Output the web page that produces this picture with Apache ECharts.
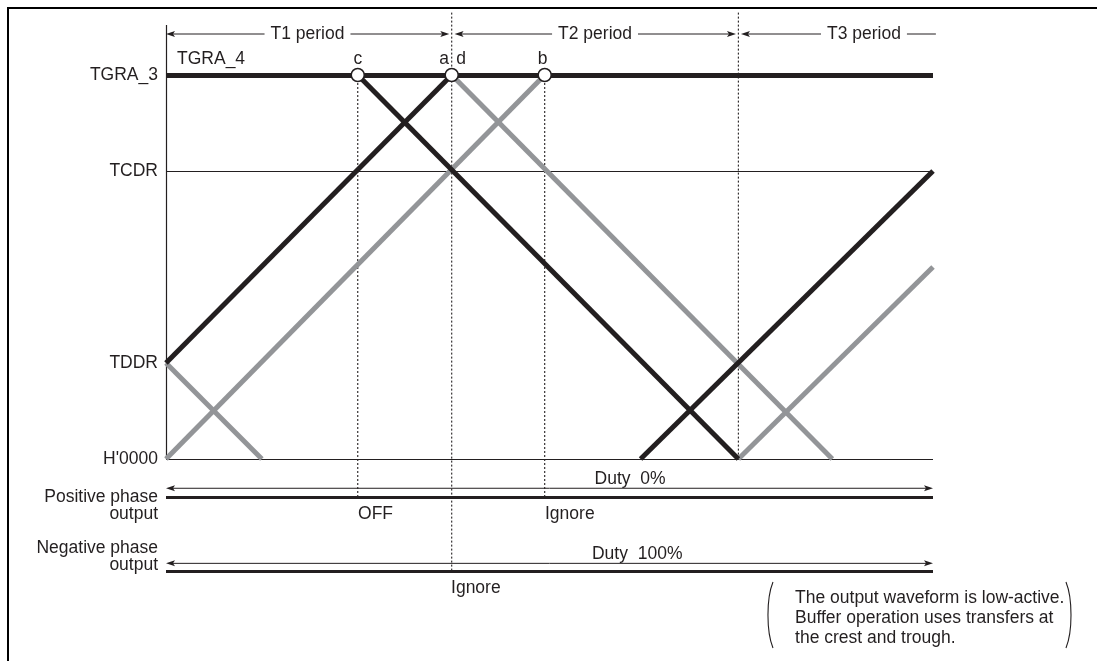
<!DOCTYPE html>
<html><head><meta charset="utf-8">
<script src="https://cdn.jsdelivr.net/npm/echarts@6/dist/echarts.min.js"></script>
<style>
html,body{margin:0;padding:0;background:#fff;}
#c{width:1097px;height:661px;position:absolute;left:0;top:0;}
#frame{position:absolute;left:7px;top:7px;right:0;bottom:0;border-left:2px solid #000;border-top:2px solid #000;pointer-events:none;}
</style>
</head><body><div id="c"></div><div id="frame"></div>
<script>
// ---- register levels (y axis tick labels) ----
const levelValues = [0, 1, 3, 4];
const levelLabels = ["H'0000", 'TDDR', 'TCDR', 'TGRA_3'];

// ---- counter waveforms (time, count) ----
const blackSegments = [
  [[0, 1], [2.98, 4]],
  [[2.0, 4], [5.97, 0]],
  [[4.95, 0], [8, 3]]
];
const graySegments = [
  [[0, 0], [3.95, 4]],
  [[0, 1], [1.0, 0]],
  [[2.98, 4], [6.95, 0]],
  [[5.97, 0], [8, 2]]
];
const tgraLine = [[0, 4], [8, 4]];
const thinLines = [
  [[0, 3], [8, 3]],
  [[0, 0], [8, 0]],
  [[0, 0], [0, 4.52]]
];
const outputLines = [
  [[0, -0.4], [8, -0.4]],
  [[0, -1.167], [8, -1.167]]
];
// dashed timing markers: [time, top, bottom]
const dashedLines = [
  [2.0, 4, -0.4],
  [2.98, 4.65, -1.167],
  [3.95, 4, -0.4],
  [5.97, 4.65, 0]
];
// compare-match points c, a, b
const matchPoints = [[2.0, 4], [2.98, 4], [3.95, 4]];

// arrows: [start, end, y, headAtStart, headAtEnd]
const arrows = [
  [0, 2.955, 4.427, 1, 1],
  [3.01, 5.945, 4.427, 1, 1],
  [5.997, 8.03, 4.427, 1, 0],
  [0, 8, -0.305, 1, 1],
  [0, 8, -1.087, 1, 1]
];
const periodNames = ['T1 period', 'T2 period', 'T3 period'];
const periodX = [1.476, 4.475, 7.28];
const periodY = 4.427;

// free text labels
const textNames = ['TGRA_4', 'c', 'a', 'd', 'b', 'Duty  0%', 'OFF', 'Ignore', 'Duty  100%', 'Ignore',
  'Positive phase\noutput', 'Negative phase\noutput',
  'The output waveform is low-active.\nBuffer operation uses transfers at\nthe crest and trough.'];
const textX = [0.115, 2.0, 2.90, 3.077, 3.927, 4.47, 2.003, 3.953, 4.443, 2.973, -0.083, -0.083, 6.561];
const textY = [4.167, 4.167, 4.167, 4.167, 4.167, -0.208, -0.578, -0.578, -0.99, -1.344, -0.49, -1.016, -1.656];
const textAlign = ['left', 'center', 'center', 'center', 'center', 'left', 'left', 'left', 'left', 'left', 'right', 'right', 'left'];
const textLineHeight = [20, 20, 20, 20, 20, 20, 20, 20, 20, 20, 17, 17, 20];

// parentheses around the note: [x, top, bottom, direction]
const parens = [
  [6.331, -1.281, -1.969, -1],
  [9.387, -1.281, -1.969, 1]
];

const INK = '#231f20';
const GRAY = '#939598';
const FONT = "'Liberation Sans', Arial, sans-serif";
const FS = 17.5;

const chart = echarts.init(document.getElementById('c'), null, {renderer: 'canvas'});

function segs(list) { return list.map(s => ({coords: s})); }

const option = {
  animation: false,
  backgroundColor: '#fff',
  textStyle: {fontFamily: FONT, fontSize: FS, color: INK},
  grid: {left: 166, right: 164, top: 3, bottom: 10},
  xAxis: {type: 'value', min: 0, max: 8, show: false},
  yAxis: {
    type: 'value', min: -2, max: 4.75, interval: 0.25,
    axisLine: {show: false}, axisTick: {show: false}, splitLine: {show: false},
    axisLabel: {
      show: true, margin: 8, fontSize: FS, color: INK, fontFamily: FONT,
      formatter: function (v) {
        for (let i = 0; i < levelValues.length; i++) {
          if (Math.abs(v - levelValues[i]) < 1e-6) return levelLabels[i];
        }
        return '';
      }
    }
  },
  series: [
    {
      type: 'lines', coordinateSystem: 'cartesian2d', z: 1, silent: true,
      lineStyle: {color: INK, width: 1.2, opacity: 1},
      data: segs(thinLines)
    },
    {
      type: 'custom', z: 1, silent: true,
      encode: {x: 0, y: [1, 2]},
      renderItem: function (params, api) {
        const p1 = api.coord([api.value(0), api.value(1)]);
        const p2 = api.coord([api.value(0), api.value(2)]);
        return {type: 'line', shape: {x1: p1[0], y1: p1[1], x2: p2[0], y2: p2[1]},
          style: {stroke: INK, lineWidth: 1.1, lineDash: [2, 2]}};
      },
      data: dashedLines
    },
    {
      type: 'lines', coordinateSystem: 'cartesian2d', z: 2, silent: true,
      lineStyle: {color: GRAY, width: 5, opacity: 1, cap: 'butt'},
      data: segs(graySegments)
    },
    {
      type: 'lines', coordinateSystem: 'cartesian2d', z: 3, silent: true,
      lineStyle: {color: INK, width: 5, opacity: 1, cap: 'butt'},
      data: segs(blackSegments)
    },
    {
      type: 'lines', coordinateSystem: 'cartesian2d', z: 4, silent: true,
      lineStyle: {color: INK, width: 5, opacity: 1},
      data: segs([tgraLine])
    },
    {
      type: 'lines', coordinateSystem: 'cartesian2d', z: 4, silent: true,
      lineStyle: {color: INK, width: 2.8, opacity: 1},
      data: segs(outputLines)
    },
    {
      type: 'custom', z: 5, silent: true,
      encode: {x: [0, 1], y: 2},
      renderItem: function (params, api) {
        const y = api.value(2);
        const p1 = api.coord([api.value(0), y]);
        const p2 = api.coord([api.value(1), y]);
        const hs = api.value(3), he = api.value(4);
        const L = 9, W = 3, N = 7;
        const ch = [{type: 'line', shape: {x1: p1[0] + (hs ? 4 : 0), y1: p1[1], x2: p2[0] - (he ? 4 : 0), y2: p2[1]},
          style: {stroke: INK, lineWidth: 1}}];
        if (hs) ch.push({type: 'polygon', shape: {points: [[p1[0], p1[1]], [p1[0] + L, p1[1] - W], [p1[0] + N, p1[1]], [p1[0] + L, p1[1] + W]]}, style: {fill: INK}});
        if (he) ch.push({type: 'polygon', shape: {points: [[p2[0], p2[1]], [p2[0] - L, p2[1] - W], [p2[0] - N, p2[1]], [p2[0] - L, p2[1] + W]]}, style: {fill: INK}});
        return {type: 'group', children: ch};
      },
      data: arrows
    },
    {
      type: 'custom', z: 5, silent: true,
      encode: {x: 0, y: [1, 2]},
      renderItem: function (params, api) {
        const x = api.value(0), d = api.value(3);
        const p1 = api.coord([x, api.value(1)]);
        const p2 = api.coord([x, api.value(2)]);
        const h = p2[1] - p1[1];
        const off = d * 6.7;
        return {type: 'bezierCurve', shape: {x1: p1[0], y1: p1[1], x2: p2[0], y2: p2[1],
          cpx1: p1[0] + off, cpy1: p1[1] + h * 0.25, cpx2: p2[0] + off, cpy2: p2[1] - h * 0.25},
          style: {stroke: INK, lineWidth: 1.1, fill: null}};
      },
      data: parens
    },
    {
      type: 'scatter', z: 8, silent: true, clip: false,
      symbol: 'circle', symbolSize: 13,
      itemStyle: {color: '#fff', borderColor: INK, borderWidth: 1.5, opacity: 1},
      data: matchPoints
    },
    {
      type: 'custom', z: 10, silent: true,
      encode: {x: 0, y: 1},
      renderItem: function (params, api) {
        const p = api.coord([api.value(0), api.value(1)]);
        return {type: 'text', x: p[0], y: p[1],
          style: {text: periodNames[params.dataIndex], fontSize: FS, fontFamily: FONT, fill: INK,
            align: 'center', verticalAlign: 'middle', backgroundColor: '#fff', padding: [0, 6]}};
      },
      data: periodX.map(x => [x, periodY])
    },
    {
      type: 'custom', z: 10, silent: true,
      encode: {x: 0, y: 1},
      renderItem: function (params, api) {
        const i = params.dataIndex;
        const p = api.coord([api.value(0), api.value(1)]);
        return {type: 'text', x: p[0], y: p[1],
          style: {text: textNames[i], fontSize: FS, fontFamily: FONT, fill: INK,
            align: textAlign[i], verticalAlign: 'middle', lineHeight: textLineHeight[i]}};
      },
      data: textX.map((x, i) => [x, textY[i]])
    }
  ]
};
chart.setOption(option);
</script>
</body></html>
